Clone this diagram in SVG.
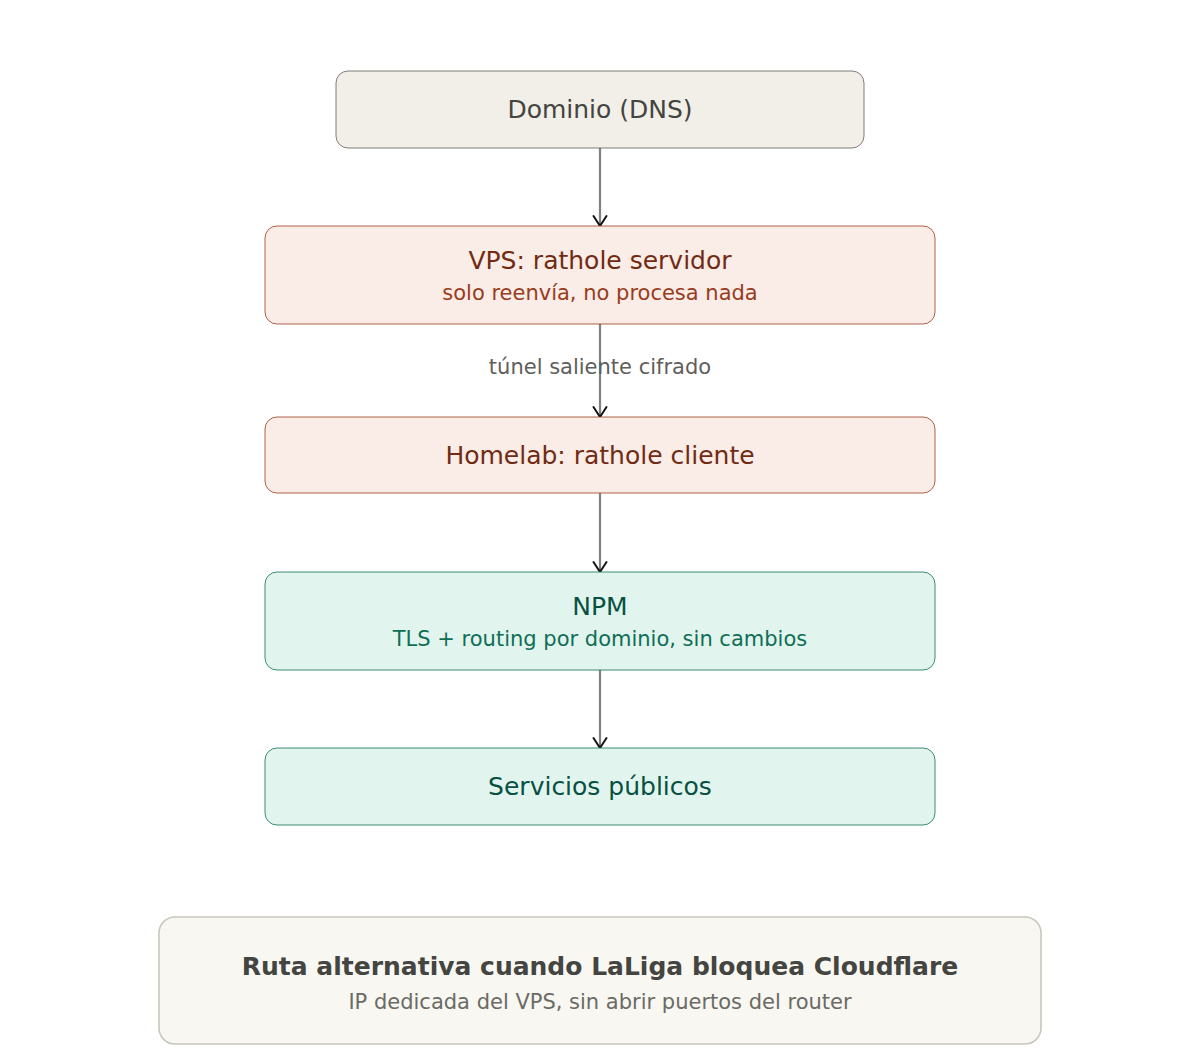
<svg xmlns="http://www.w3.org/2000/svg" width="1200" height="1050" viewBox="0 0 1200 1050">
<defs>
<marker id="arr" viewBox="-8 -12 16 14" refX="0" refY="0" markerWidth="16" markerHeight="14" markerUnits="userSpaceOnUse" orient="0">
<path d="M-6.5 -10 L0 0 L6.5 -10" fill="none" stroke="#111" stroke-width="2" stroke-linecap="round" stroke-linejoin="miter"/>
</marker>
<style>
text{font-family:"DejaVu Sans","Noto Sans",sans-serif;text-anchor:middle}
.t{font-size:25px}
.s{font-size:21px}
.gray rect{fill:#f1efe8;stroke:#5f5e5a;stroke-width:0.8}
.gray .t{fill:#444441}
.coral rect{fill:#faece7;stroke:#993c1d;stroke-width:0.8}
.coral .t{fill:#712b13}
.coral .s{fill:#993c1d}
.teal rect{fill:#e1f5ee;stroke:#0f6e56;stroke-width:0.8}
.teal .t{fill:#085041}
.teal .s{fill:#0f6e56}
.note rect{fill:#f8f7f2;stroke:#c8c6bd;stroke-width:1.6}
.note .t{fill:#444441;font-weight:bold}
.note .s{fill:#6b6a64}
.edge{stroke:#808080;stroke-width:2.2;fill:none}
.lbl{font-size:21px;fill:#5f5e5a}
</style>
</defs>
<g id="connectors">
<line class="edge" x1="600" y1="148" x2="600" y2="226" marker-end="url(#arr)"/>
<line class="edge" x1="600" y1="324" x2="600" y2="417" marker-end="url(#arr)"/>
<line class="edge" x1="600" y1="493" x2="600" y2="572" marker-end="url(#arr)"/>
<line class="edge" x1="600" y1="670" x2="600" y2="748" marker-end="url(#arr)"/>
<text class="lbl" x="600" y="374">túnel saliente cifrado</text>
</g>
<g id="dns" class="gray">
<rect x="336" y="71" width="528" height="77" rx="12"/>
<text class="t" x="600" y="118">Dominio (DNS)</text>
</g>
<g id="vps" class="coral">
<rect x="265" y="226" width="670" height="98" rx="12"/>
<text class="t" x="600" y="269">VPS: rathole servidor</text>
<text class="s" x="600" y="300">solo reenvía, no procesa nada</text>
</g>
<g id="homelab" class="coral">
<rect x="265" y="417" width="670" height="76" rx="12"/>
<text class="t" x="600" y="464">Homelab: rathole cliente</text>
</g>
<g id="npm" class="teal">
<rect x="265" y="572" width="670" height="98" rx="12"/>
<text class="t" x="600" y="615">NPM</text>
<text class="s" x="600" y="646">TLS + routing por dominio, sin cambios</text>
</g>
<g id="servicios" class="teal">
<rect x="265" y="748" width="670" height="77" rx="12"/>
<text class="t" x="600" y="795">Servicios públicos</text>
</g>
<g id="nota" class="note">
<rect x="159" y="917" width="882" height="127" rx="16"/>
<text class="t" x="600" y="975">Ruta alternativa cuando LaLiga bloquea Cloudflare</text>
<text class="s" x="600" y="1009">IP dedicada del VPS, sin abrir puertos del router</text>
</g>
</svg>
